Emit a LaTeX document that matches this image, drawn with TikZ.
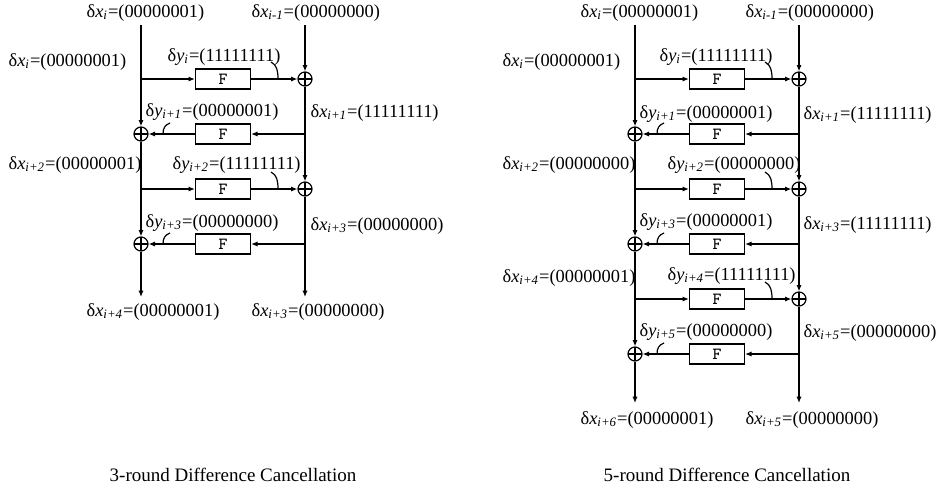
\documentclass[tikz,border=0pt]{standalone}
\usepackage{fontspec}
\setmainfont{Liberation Serif}
\usetikzlibrary{arrows.meta}

\newcommand{\difx}[2]{δ\textit{x}\textsubscript{\textit{#1}}=(#2)}
\newcommand{\dify}[2]{δ\textit{y}\textsubscript{\textit{#1}}=(#2)}

\begin{document}
\begin{tikzpicture}[x=0.5pt, y=-0.5pt, line width=0.6pt,
    font=\fontsize{9.2}{11}\selectfont,
    >={Latex[length=3.2pt,width=2.6pt]},
    fbox/.style={draw, minimum width=27.5pt, minimum height=10pt, inner sep=0pt,
        font=\ttfamily\fontsize{8.5}{9}\selectfont},
    xorc/.style={draw, circle, minimum size=7pt, inner sep=0pt,
        path picture={\draw (path picture bounding box.north) -- (path picture bounding box.south)
            (path picture bounding box.west) -- (path picture bounding box.east);}},
    lbl/.style={anchor=west, inner sep=0pt}]
    \useasboundingbox (0,0) rectangle (943,489);

    % 3-round
    \coordinate (LTa) at (141,25);
    \coordinate (RTa) at (305,25);
    \coordinate (LBa) at (141,297);
    \coordinate (RBa) at (305,297);
    \foreach \k/\y in {1/79,2/134,3/189,4/244} {\node[fbox] (Fa\k) at (223,\y) {F};}
    \foreach \k/\x/\y/\s in {1/305/79/141, 2/141/134/305, 3/305/189/141, 4/141/244/305} {
        \node[xorc] (Xa\k) at (\x,\y) {};
        \coordinate (Ba\k) at (\s,\y);
        \draw[->] (Ba\k) -- (Fa\k);
        \draw[->] (Fa\k) -- (Xa\k);
    }
    \draw[->] (LTa) -- (Xa2.north);
    \draw[->] (Xa2.south) -- (Xa4.north);
    \draw[->] (Xa4.south) -- (LBa);
    \draw[->] (RTa) -- (Xa1.north);
    \draw[->] (Xa1.south) -- (Xa3.north);
    \draw[->] (Xa3.south) -- (RBa);
    \foreach \y in {79,189} {\draw (278,\y) .. controls (278,\y-8) and (277,\y-14) .. (271,\y-17);}
    \foreach \y in {134,244} {\draw (163,\y) .. controls (163,\y-6) and (165,\y-9) .. (170,\y-11);}
    \node[lbl] (TLa) at (86,13) {\difx{i}{00000001}};
    \node[lbl] (TRa) at (251,13) {\difx{i-1}{00000000}};
    \node[lbl] (La1) at (8,62) {\difx{i}{00000001}};
    \node[lbl] (Ya1) at (167,57) {\dify{i}{11111111}};
    \node[lbl] (Ya2) at (145,112) {\dify{i+1}{00000001}};
    \node[lbl] (Ra2) at (310,113) {\difx{i+1}{11111111}};
    \node[lbl] (La3) at (8,165) {\difx{i+2}{00000001}};
    \node[lbl] (Ya3) at (172,165) {\dify{i+2}{11111111}};
    \node[lbl] (Ya4) at (145,223) {\dify{i+3}{00000000}};
    \node[lbl] (Ra4) at (310,226) {\difx{i+3}{00000000}};
    \node[lbl] (BLa) at (86,312) {\difx{i+4}{00000001}};
    \node[lbl] (BRa) at (251,312) {\difx{i+3}{00000000}};
    \node[font=\fontsize{9.5}{11}\selectfont] (Ca) at (233,475) {3-round Difference Cancellation};

    % 5-round
    \coordinate (LTb) at (635,25);
    \coordinate (RTb) at (799,25);
    \coordinate (LBb) at (635,403);
    \coordinate (RBb) at (799,403);
    \foreach \k/\y in {1/79,2/134,3/189,4/244,5/299,6/354} {\node[fbox] (Fb\k) at (717,\y) {F};}
    \foreach \k/\x/\y/\s in {1/799/79/635, 2/635/134/799, 3/799/189/635, 4/635/244/799, 5/799/299/635, 6/635/354/799} {
        \node[xorc] (Xb\k) at (\x,\y) {};
        \coordinate (Bb\k) at (\s,\y);
        \draw[->] (Bb\k) -- (Fb\k);
        \draw[->] (Fb\k) -- (Xb\k);
    }
    \draw[->] (LTb) -- (Xb2.north);
    \draw[->] (Xb2.south) -- (Xb4.north);
    \draw[->] (Xb4.south) -- (Xb6.north);
    \draw[->] (Xb6.south) -- (LBb);
    \draw[->] (RTb) -- (Xb1.north);
    \draw[->] (Xb1.south) -- (Xb3.north);
    \draw[->] (Xb3.south) -- (Xb5.north);
    \draw[->] (Xb5.south) -- (RBb);
    \foreach \y in {79,189,299} {\draw (772,\y) .. controls (772,\y-8) and (771,\y-14) .. (765,\y-17);}
    \foreach \y in {134,244,354} {\draw (657,\y) .. controls (657,\y-6) and (659,\y-9) .. (664,\y-11);}
    \node[lbl] (TLb) at (580,13) {\difx{i}{00000001}};
    \node[lbl] (TRb) at (745,13) {\difx{i-1}{00000000}};
    \node[lbl] (Lb1) at (502,62) {\difx{i}{00000001}};
    \node[lbl] (Yb1) at (659,57) {\dify{i}{11111111}};
    \node[lbl] (Yb2) at (639,114) {\dify{i+1}{00000001}};
    \node[lbl] (Rb2) at (803,115) {\difx{i+1}{11111111}};
    \node[lbl] (Lb3) at (502,165) {\difx{i+2}{00000000}};
    \node[lbl] (Yb3) at (667,165) {\dify{i+2}{00000000}};
    \node[lbl] (Yb4) at (639,222) {\dify{i+3}{00000001}};
    \node[lbl] (Rb4) at (803,225) {\difx{i+3}{11111111}};
    \node[lbl] (Lb5) at (502,278) {\difx{i+4}{00000001}};
    \node[lbl] (Yb5) at (667,276) {\dify{i+4}{11111111}};
    \node[lbl] (Yb6) at (639,332) {\dify{i+5}{00000000}};
    \node[lbl] (Rb6) at (803,333) {\difx{i+5}{00000000}};
    \node[lbl] (BLb) at (580,420) {\difx{i+6}{00000001}};
    \node[lbl] (BRb) at (745,420) {\difx{i+5}{00000000}};
    \node[font=\fontsize{9.5}{11}\selectfont] (Cb) at (727,475) {5-round Difference Cancellation};
\end{tikzpicture}
\end{document}
